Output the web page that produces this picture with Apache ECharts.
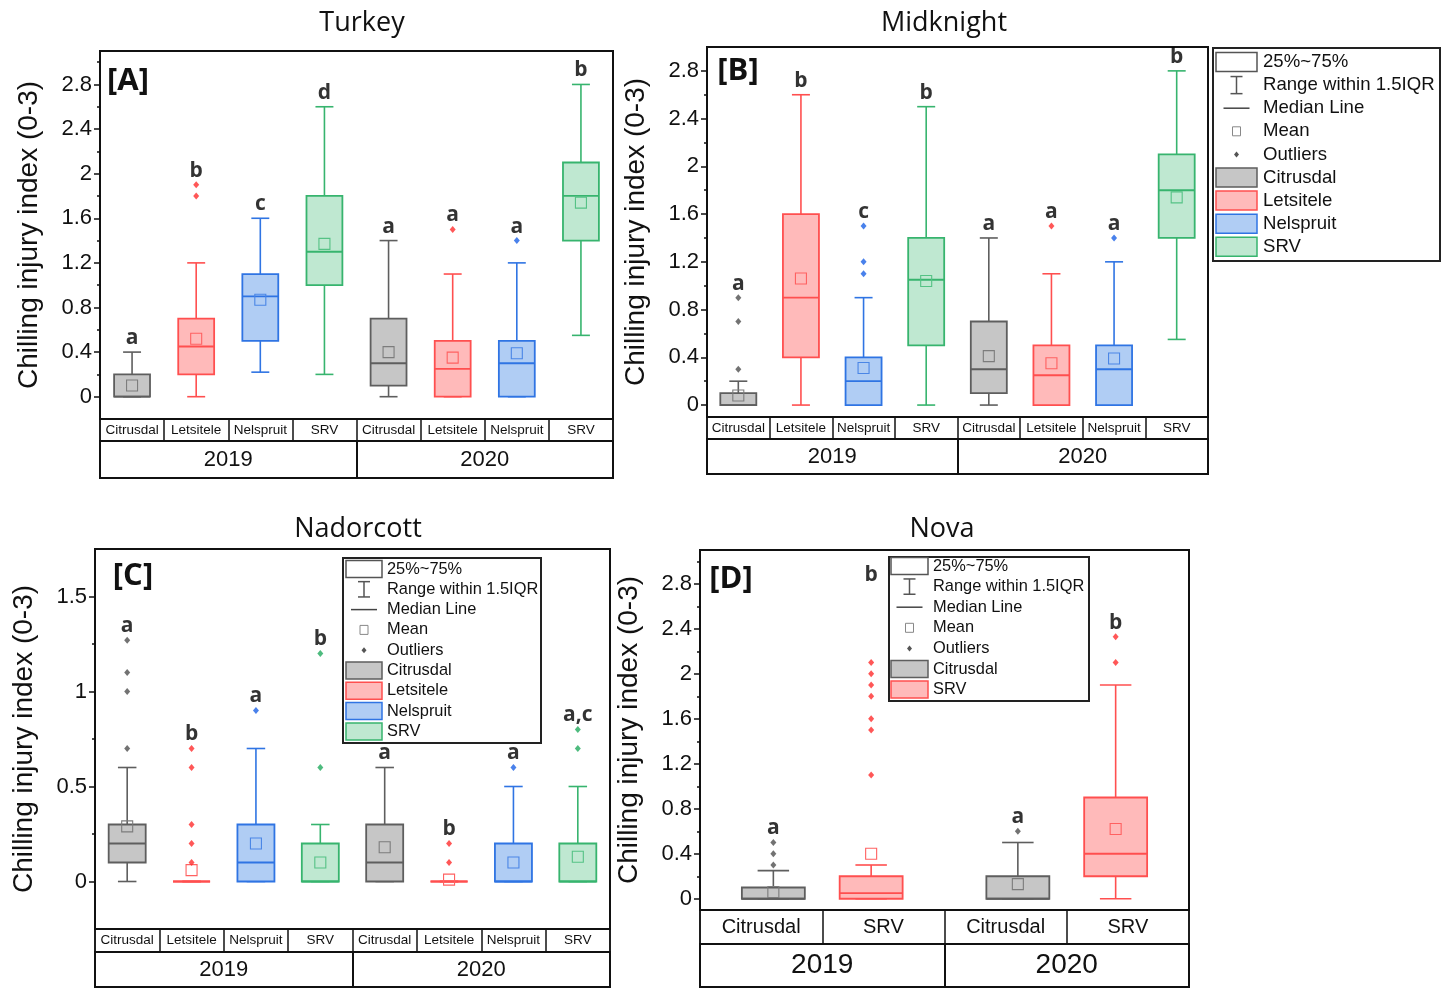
<!DOCTYPE html>
<html>
<head>
<meta charset="utf-8">
<script src="https://cdn.jsdelivr.net/npm/echarts@6/dist/echarts.min.js"></script>
<style>
html, body { margin: 0; padding: 0; background: #fff; }
#chart { width: 1456px; height: 988px; }
</style>
</head>
<body>
<div id="chart"></div>
<script>
// ---- categories ----
const CULTIVARS = ['Citrusdal', 'Letsitele', 'Nelspruit', 'SRV'];
const NOVA_CULTIVARS = ['Citrusdal', 'SRV'];
const YEARS = ['2019', '2020'];

// ---- Turkey: [min, Q1, median, Q3, max], 2019 then 2020 ----
const turkeyBox = [
  [0, 0, 0, 0.2, 0.4], [0, 0.2, 0.45, 0.7, 1.2], [0.22, 0.5, 0.9, 1.1, 1.6], [0.2, 1.0, 1.3, 1.8, 2.6],
  [0, 0.1, 0.3, 0.7, 1.4], [0, 0, 0.25, 0.5, 1.1], [0, 0, 0.3, 0.5, 1.2], [0.55, 1.4, 1.8, 2.1, 2.8]
];
const turkeyMean = [0.1, 0.52, 0.87, 1.37, 0.4, 0.35, 0.39, 1.74];
const turkeyOutliers = [[], [1.8, 1.9], [], [], [], [1.5], [1.4], []];
const turkeyLetters = ['a', 'b', 'c', 'd', 'a', 'a', 'a', 'b'];

// ---- Midknight ----
const midknightBox = [
  [0, 0, 0, 0.1, 0.2], [0, 0.4, 0.9, 1.6, 2.6], [0, 0, 0.2, 0.4, 0.9], [0, 0.5, 1.05, 1.4, 2.5],
  [0, 0.1, 0.3, 0.7, 1.4], [0, 0, 0.25, 0.5, 1.1], [0, 0, 0.3, 0.5, 1.2], [0.55, 1.4, 1.8, 2.1, 2.8]
];
const midknightMean = [0.08, 1.06, 0.31, 1.04, 0.41, 0.35, 0.39, 1.74];
const midknightOutliers = [[0.3, 0.7, 0.9], [], [1.1, 1.2, 1.5], [], [], [1.5], [1.4], []];
const midknightLetters = ['a', 'b', 'c', 'b', 'a', 'a', 'a', 'b'];

// ---- Nadorcott ----
const nadorcottBox = [
  [0, 0.1, 0.2, 0.3, 0.6], [0, 0, 0, 0, 0], [0, 0, 0.1, 0.3, 0.7], [0, 0, 0, 0.2, 0.3],
  [0, 0, 0.1, 0.3, 0.6], [0, 0, 0, 0, 0], [0, 0, 0, 0.2, 0.5], [0, 0, 0, 0.2, 0.5]
];
const nadorcottMean = [0.29, 0.06, 0.2, 0.1, 0.18, 0.01, 0.1, 0.13];
const nadorcottOutliers = [[0.7, 1.0, 1.1, 1.27], [0.1, 0.2, 0.3, 0.6, 0.7], [0.9], [0.6, 1.2], [], [0.1, 0.2], [0.6], [0.7, 0.8]];
const nadorcottLetters = ['a', 'b', 'a', 'b', 'a', 'b', 'a', 'a,c'];

// ---- Nova ----
const novaBox = [
  [0, 0, 0, 0.1, 0.25], [0, 0, 0.05, 0.2, 0.3],
  [0, 0, 0, 0.2, 0.5], [0, 0.2, 0.4, 0.9, 1.9]
];
const novaMean = [0.06, 0.4, 0.13, 0.62];
const novaOutliers = [[0.3, 0.4, 0.5], [1.1, 1.5, 1.6, 1.8, 1.9, 2.0, 2.1], [0.6], [2.1, 2.33]];
const novaLetters = ['a', 'b', 'a', 'b'];

// ---- tick values ----
const ticksMain = [0, 0.4, 0.8, 1.2, 1.6, 2, 2.4, 2.8];
const ticksMinorTo30 = [0.2, 0.6, 1.0, 1.4, 1.8, 2.2, 2.6, 3.0];
const ticksMinorTo26 = [0.2, 0.6, 1.0, 1.4, 1.8, 2.2, 2.6];
const ticksHalf = [0, 0.5, 1, 1.5];
const ticksQuarter = [0.25, 0.75, 1.25];

// ---- styling ----
const SANS = '"Liberation Sans", Arial, sans-serif';
const TITLE_FONT = '"Open Sans", "Noto Sans", sans-serif';
const BOLD_FONT = '"Open Sans", Lato, sans-serif';
const INK = '#111';
const PALETTE = [
  { stroke: '#5e5e5e', fill: '#c6c6c6', dot: '#4f4f4f', mean: '#7c7c7c' },
  { stroke: '#ff4f4f', fill: '#ffbaba', dot: '#ff2d2d', mean: '#ff6161' },
  { stroke: '#2f74e3', fill: '#b0cdf4', dot: '#1b62e6', mean: '#4a86e6' },
  { stroke: '#37b46e', fill: '#bfe8d1', dot: '#22aa5e', mean: '#55c285' }
];

const panels = [
  { title: 'Turkey', tag: '[A]', cats: CULTIVARS, colors: [0, 1, 2, 3],
    box: turkeyBox, mean: turkeyMean, out: turkeyOutliers, letters: turkeyLetters,
    left: 100, top: 51, width: 513, plotH: 368, catH: 22, yearH: 37,
    yMin: -0.2, yMax: 3.1, ticks: ticksMain, minor: ticksMinorTo30,
    boxW: 0.56, spread: 1, catFont: 13.5, yearFont: 22,
    titleAt: [362, 23], tagAt: [128, 81] },
  { title: 'Midknight', tag: '[B]', cats: CULTIVARS, colors: [0, 1, 2, 3],
    box: midknightBox, mean: midknightMean, out: midknightOutliers, letters: midknightLetters,
    left: 707, top: 47, width: 501, plotH: 370, catH: 22, yearH: 35,
    yMin: -0.1, yMax: 3.0, ticks: ticksMain, minor: ticksMinorTo26,
    boxW: 0.575, spread: 1, catFont: 13.5, yearFont: 22,
    titleAt: [944, 23], tagAt: [738, 71] },
  { title: 'Nadorcott', tag: '[C]', cats: CULTIVARS, colors: [0, 1, 2, 3],
    box: nadorcottBox, mean: nadorcottMean, out: nadorcottOutliers, letters: nadorcottLetters,
    left: 95, top: 549, width: 515, plotH: 380, catH: 23, yearH: 35,
    yMin: -0.25, yMax: 1.75, ticks: ticksHalf, minor: ticksQuarter,
    boxW: 0.575, spread: 1, catFont: 13.5, yearFont: 22,
    titleAt: [358, 529], tagAt: [133, 576] },
  { title: 'Nova', tag: '[D]', cats: NOVA_CULTIVARS, colors: [0, 1],
    box: novaBox, mean: novaMean, out: novaOutliers, letters: novaLetters,
    left: 700, top: 550, width: 489, plotH: 360, catH: 34, yearH: 43,
    yMin: -0.1, yMax: 3.1, ticks: ticksMain, minor: ticksMinorTo30,
    boxW: 0.515, spread: 0.8, catFont: 20, yearFont: 28,
    pinnedLetter: { 1: 2.75 },
    titleAt: [942, 529], tagAt: [731, 579] }
];

// whisker box drawn through the panel's own axes
function makeBoxRenderer(boxW) {
  return function (params, api) {
    const x = api.value(0);
    const c = PALETTE[api.value(7)];
    const half = api.size([boxW, 0])[0] / 2;
    const cap = half / 2;
    const pt = k => api.coord([x, api.value(k)]);
    const pMin = pt(1), pQ1 = pt(2), pMed = pt(3), pQ3 = pt(4), pMax = pt(5), pMean = pt(6);
    const cx = pMin[0];
    const m = 5.5;
    return {
      type: 'group',
      children: [
        { type: 'line', shape: { x1: cx, y1: pMax[1], x2: cx, y2: pMin[1] }, style: { stroke: c.stroke, lineWidth: 1.6 } },
        { type: 'line', shape: { x1: cx - cap, y1: pMax[1], x2: cx + cap, y2: pMax[1] }, style: { stroke: c.stroke, lineWidth: 1.6 } },
        { type: 'line', shape: { x1: cx - cap, y1: pMin[1], x2: cx + cap, y2: pMin[1] }, style: { stroke: c.stroke, lineWidth: 1.6 } },
        { type: 'rect', shape: { x: cx - half, y: pQ3[1], width: 2 * half, height: pQ1[1] - pQ3[1] },
          style: { fill: c.fill, stroke: c.stroke, lineWidth: 1.8 } },
        { type: 'line', shape: { x1: cx - half, y1: pMed[1], x2: cx + half, y2: pMed[1] }, style: { stroke: c.stroke, lineWidth: 1.8 } },
        { type: 'rect', shape: { x: cx - m, y: pMean[1] - m, width: 2 * m, height: 2 * m },
          style: { fill: 'none', stroke: c.mean, lineWidth: 1.1 } }
      ]
    };
  };
}

function txt(x, y, text, o) {
  return {
    type: 'text', x: x, y: y, z: 100,
    style: Object.assign({
      text: text, fill: INK, fontFamily: SANS, fontSize: 16,
      align: 'left', verticalAlign: 'middle', textAlign: 'left', textVerticalAlign: 'middle'
    }, o || {})
  };
}

// legend panel: box statistics key followed by colour swatches
function legendBlock(L) {
  const els = [];
  els.push({ type: 'rect', z: 99, shape: { x: L.x, y: L.y, width: L.w, height: L.h },
    style: { fill: '#fff', stroke: '#222', lineWidth: 2 } });
  const cx = L.sx + L.sw / 2;
  const rows = ['25%~75%', 'Range within 1.5IQR', 'Median Line', 'Mean', 'Outliers'].concat(L.names);
  rows.forEach((t, i) => {
    const cy = L.y0 + i * L.step;
    els.push(txt(L.tx, cy, t, { fontSize: L.font }));
    if (i === 0) {
      els.push({ type: 'rect', z: 100, shape: { x: L.sx, y: cy - L.sh / 2, width: L.sw, height: L.sh },
        style: { fill: '#fff', stroke: '#555', lineWidth: 1.5 } });
    } else if (i === 1) {
      const h = L.sh * 0.45;
      els.push({ type: 'polyline', z: 100, shape: { points: [[cx, cy - h], [cx, cy + h]] }, style: { stroke: '#555', lineWidth: 1.5 } });
      els.push({ type: 'line', z: 100, shape: { x1: cx - 6, y1: cy - h, x2: cx + 6, y2: cy - h }, style: { stroke: '#555', lineWidth: 1.5 } });
      els.push({ type: 'line', z: 100, shape: { x1: cx - 6, y1: cy + h, x2: cx + 6, y2: cy + h }, style: { stroke: '#555', lineWidth: 1.5 } });
    } else if (i === 2) {
      els.push({ type: 'line', z: 100, shape: { x1: cx - 13, y1: cy, x2: cx + 13, y2: cy }, style: { stroke: '#444', lineWidth: 1.5 } });
    } else if (i === 3) {
      els.push({ type: 'rect', z: 100, shape: { x: cx - 4, y: cy - 4.5, width: 8, height: 9 }, style: { fill: 'none', stroke: '#888', lineWidth: 1 } });
    } else if (i === 4) {
      els.push({ type: 'polygon', z: 100, shape: { points: [[cx, cy - 3], [cx + 2.5, cy], [cx, cy + 3], [cx - 2.5, cy]] }, style: { fill: '#555' } });
    } else {
      const c = PALETTE[L.colors[i - 5]];
      els.push({ type: 'rect', z: 100, shape: { x: L.sx, y: cy - L.sh / 2, width: L.sw, height: L.sh },
        style: { fill: c.fill, stroke: c.stroke, lineWidth: 1.5 } });
    }
  });
  return els;
}

const option = {
  animation: false,
  backgroundColor: '#fff',
  grid: [], xAxis: [], yAxis: [], series: [], graphic: []
};

panels.forEach(p => {
  const g = option.grid.length;
  const nPer = p.cats.length;
  const n = nPer * YEARS.length;
  option.grid.push({ left: p.left, top: p.top, width: p.width, height: p.plotH, show: true, borderColor: INK, borderWidth: 2 });
  option.grid.push({ left: p.left, top: p.top + p.plotH, width: p.width, height: p.catH, show: true, borderColor: INK, borderWidth: 1.5 });
  option.grid.push({ left: p.left, top: p.top + p.plotH + p.catH, width: p.width, height: p.yearH, show: true, borderColor: INK, borderWidth: 2 });

  const rowLabels = [];
  YEARS.forEach(() => p.cats.forEach(c => rowLabels.push(c)));

  const xi = option.xAxis.length;
  option.xAxis.push({ type: 'value', gridIndex: g, min: 0, max: n, show: false });
  option.xAxis.push({
    type: 'category', gridIndex: g + 1, data: rowLabels.map((_, i) => 'c' + i),
    axisLine: { show: false }, axisTick: { show: false },
    splitLine: { show: true, interval: 0, lineStyle: { color: INK, width: 1.5 } },
    axisLabel: { interval: 0, margin: -p.catH / 2, verticalAlign: 'middle', fontSize: p.catFont,
      fontFamily: SANS, color: INK, formatter: (v, i) => rowLabels[i] }
  });
  option.xAxis.push({
    type: 'category', gridIndex: g + 2, data: YEARS,
    axisLine: { show: false }, axisTick: { show: false },
    splitLine: { show: true, interval: 0, lineStyle: { color: INK, width: 2 } },
    axisLabel: { interval: 0, margin: -p.yearH / 2, verticalAlign: 'middle', fontSize: p.yearFont,
      fontFamily: SANS, color: INK }
  });

  const yi = option.yAxis.length;
  option.yAxis.push({
    type: 'value', gridIndex: g, position: 'left', min: p.yMin, max: p.yMax,
    name: 'Chilling injury index (0-3)', nameLocation: 'middle', nameGap: 57,
    nameTextStyle: { fontSize: 28, fontFamily: SANS, color: INK },
    axisLine: { show: true, lineStyle: { color: INK, width: 2 } },
    axisTick: { show: true, customValues: p.ticks, length: 6, lineStyle: { color: INK, width: 1.5 } },
    axisLabel: { customValues: p.ticks, fontSize: 22, fontFamily: SANS, color: INK, margin: 8 },
    splitLine: { show: false }
  });
  option.yAxis.push({
    type: 'value', gridIndex: g, position: 'left', offset: 0, min: p.yMin, max: p.yMax,
    axisLine: { show: false },
    axisTick: { show: true, customValues: p.minor, length: 3, lineStyle: { color: INK, width: 1.5 } },
    axisLabel: { show: false }, splitLine: { show: false }
  });
  option.yAxis.push({ type: 'value', gridIndex: g + 1, show: false });
  option.yAxis.push({ type: 'value', gridIndex: g + 2, show: false });

  // box centres: each year group holds its cultivars side by side
  const pos = [];
  for (let yr = 0; yr < YEARS.length; yr++) {
    for (let j = 0; j < nPer; j++) {
      pos.push(yr * nPer + nPer / 2 + (j - (nPer - 1) / 2) * p.spread);
    }
  }
  const colorOf = i => p.colors[i % nPer];

  option.series.push({
    type: 'custom', xAxisIndex: xi, yAxisIndex: yi, z: 2,
    renderItem: makeBoxRenderer(p.boxW),
    encode: { x: 0, y: [1, 2, 3, 4, 5] },
    data: p.box.map((b, i) => [pos[i], b[0], b[1], b[2], b[3], b[4], p.mean[i], colorOf(i)])
  });

  const outData = [];
  p.out.forEach((list, i) => list.forEach(v => outData.push({
    value: [pos[i], v], itemStyle: { color: PALETTE[colorOf(i)].dot }
  })));
  option.series.push({
    type: 'scatter', xAxisIndex: xi, yAxisIndex: yi, z: 3,
    symbol: 'diamond', symbolSize: [6, 7], data: outData
  });

  const letterData = p.letters.map((t, i) => {
    let top = Math.max(p.box[i][4], ...p.out[i]);
    if (p.pinnedLetter && p.pinnedLetter[i] != null) top = p.pinnedLetter[i];
    return { name: t, value: [pos[i], top] };
  });
  option.series.push({
    type: 'scatter', xAxisIndex: xi, yAxisIndex: yi, z: 4,
    symbol: 'circle', symbolSize: 1, itemStyle: { color: 'rgba(0,0,0,0)' },
    label: { show: true, position: 'top', distance: 3, formatter: '{b}',
      fontSize: 21, fontWeight: 'bold', fontFamily: BOLD_FONT, color: '#000' },
    data: letterData
  });

  option.graphic.push(txt(p.titleAt[0], p.titleAt[1], p.title,
    { fontSize: 27, fontFamily: TITLE_FONT, align: 'center', textAlign: 'center' }));
  option.graphic.push(txt(p.tagAt[0], p.tagAt[1], p.tag,
    { fontSize: 31, fontWeight: 'bold', fontFamily: BOLD_FONT, align: 'center', textAlign: 'center' }));
});

legendBlock({ x: 1213, y: 48, w: 227, h: 213, sx: 1216, sw: 41, sh: 19, tx: 1263, y0: 62, step: 23.1, font: 18.6,
  names: CULTIVARS, colors: [0, 1, 2, 3] }).forEach(e => option.graphic.push(e));
legendBlock({ x: 343, y: 558, w: 198, h: 185, sx: 346, sw: 36, sh: 17, tx: 387, y0: 569, step: 20.3, font: 16.4,
  names: CULTIVARS, colors: [0, 1, 2, 3] }).forEach(e => option.graphic.push(e));
legendBlock({ x: 889, y: 557, w: 200, h: 144, sx: 891, sw: 37, sh: 17, tx: 933, y0: 566, step: 20.6, font: 16.4,
  names: NOVA_CULTIVARS, colors: [0, 1] }).forEach(e => option.graphic.push(e));

const chart = echarts.init(document.getElementById('chart'), null, { renderer: 'canvas' });
chart.setOption(option);
</script>
</body>
</html>
